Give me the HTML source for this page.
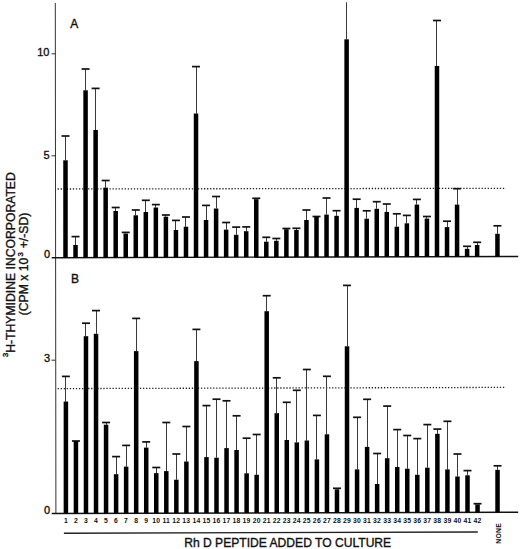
<!DOCTYPE html>
<html><head><meta charset="utf-8"><style>
html,body{margin:0;padding:0;background:#fff;width:520px;height:549px;overflow:hidden;}
svg{display:block;}
</style></head><body>
<svg width="520" height="549" viewBox="0 0 520 549">
<style>
.e{stroke:#3a3a3a;stroke-width:1;}
.c{stroke:#111;stroke-width:1.7;}
rect{fill:#000;}
text{font-family:"Liberation Sans",sans-serif;fill:#111;stroke:#111;stroke-width:0.35px;}
.n{font-size:6.8px;font-weight:bold;text-anchor:middle;stroke:none;letter-spacing:0.25px;}
.t{font-size:11px;text-anchor:end;}
.d{stroke:#222;stroke-width:1.3;stroke-dasharray:1.3 1.75;}
</style>
<!-- axis -->
<line x1="55.3" y1="3" x2="55.9" y2="513.5" stroke="#333" stroke-width="1"/>
<!-- baselines -->
<line x1="51.7" y1="257.7" x2="518.2" y2="256.5" stroke="#111" stroke-width="1.4"/>
<line x1="51.7" y1="513.5" x2="518.2" y2="512.2" stroke="#111" stroke-width="1.4"/>
<!-- ticks -->
<line x1="51.5" y1="53.8" x2="55.5" y2="53.8" stroke="#333" stroke-width="1"/>
<line x1="51.5" y1="155.8" x2="55.5" y2="155.8" stroke="#333" stroke-width="1"/>
<line x1="51.5" y1="360.2" x2="55.5" y2="360.2" stroke="#333" stroke-width="1"/>
<!-- dotted -->
<line x1="57.6" y1="189.0" x2="506" y2="188.3" class="d"/>
<line x1="57.6" y1="388.6" x2="506" y2="387.4" class="d"/>
<!-- tick labels -->
<text x="49.5" y="55.6" class="t">10</text>
<text x="49.5" y="158.7" class="t">5</text>
<text x="50" y="258.2" class="t">0</text>
<text x="50" y="361.6" class="t">3</text>
<text x="50" y="514" class="t">0</text>
<!-- panel letters -->
<text x="70.3" y="28" font-size="12px">A</text>
<text x="71" y="282.7" font-size="12px">B</text>
<line x1="65.50" y1="136.00" x2="65.50" y2="160.30" class="e"/>
<line x1="61.50" y1="136.00" x2="69.50" y2="136.00" class="c"/>
<rect x="63.25" y="160.30" width="4.5" height="97.36"/>
<line x1="75.50" y1="236.60" x2="75.50" y2="245.00" class="e"/>
<line x1="71.54" y1="236.60" x2="79.54" y2="236.60" class="c"/>
<rect x="73.29" y="245.00" width="4.5" height="12.64"/>
<line x1="85.50" y1="69.00" x2="85.50" y2="90.30" class="e"/>
<line x1="81.58" y1="69.00" x2="89.58" y2="69.00" class="c"/>
<rect x="83.33" y="90.30" width="4.5" height="167.31"/>
<line x1="95.50" y1="88.40" x2="95.50" y2="130.00" class="e"/>
<line x1="91.62" y1="88.40" x2="99.62" y2="88.40" class="c"/>
<rect x="93.37" y="130.00" width="4.5" height="127.59"/>
<line x1="105.50" y1="180.50" x2="105.50" y2="187.60" class="e"/>
<line x1="101.66" y1="180.50" x2="109.66" y2="180.50" class="c"/>
<rect x="103.41" y="187.60" width="4.5" height="69.96"/>
<line x1="115.50" y1="207.50" x2="115.50" y2="211.00" class="e"/>
<line x1="111.70" y1="207.50" x2="119.70" y2="207.50" class="c"/>
<rect x="113.45" y="211.00" width="4.5" height="46.53"/>
<line x1="125.50" y1="232.40" x2="125.50" y2="233.60" class="e"/>
<line x1="121.74" y1="232.40" x2="129.74" y2="232.40" class="c"/>
<rect x="123.49" y="233.60" width="4.5" height="23.91"/>
<line x1="135.50" y1="210.00" x2="135.50" y2="215.30" class="e"/>
<line x1="131.78" y1="210.00" x2="139.78" y2="210.00" class="c"/>
<rect x="133.53" y="215.30" width="4.5" height="42.18"/>
<line x1="145.50" y1="200.30" x2="145.50" y2="212.00" class="e"/>
<line x1="141.82" y1="200.30" x2="149.82" y2="200.30" class="c"/>
<rect x="143.57" y="212.00" width="4.5" height="45.46"/>
<line x1="155.50" y1="204.60" x2="155.50" y2="207.50" class="e"/>
<line x1="151.86" y1="204.60" x2="159.86" y2="204.60" class="c"/>
<rect x="153.61" y="207.50" width="4.5" height="49.93"/>
<line x1="165.50" y1="215.00" x2="165.50" y2="216.70" class="e"/>
<line x1="161.90" y1="215.00" x2="169.90" y2="215.00" class="c"/>
<rect x="163.65" y="216.70" width="4.5" height="40.70"/>
<line x1="175.50" y1="220.40" x2="175.50" y2="230.00" class="e"/>
<line x1="171.94" y1="220.40" x2="179.94" y2="220.40" class="c"/>
<rect x="173.69" y="230.00" width="4.5" height="27.38"/>
<line x1="185.50" y1="217.00" x2="185.50" y2="226.70" class="e"/>
<line x1="181.98" y1="217.00" x2="189.98" y2="217.00" class="c"/>
<rect x="183.73" y="226.70" width="4.5" height="30.65"/>
<line x1="196.50" y1="66.60" x2="196.50" y2="113.50" class="e"/>
<line x1="192.02" y1="66.60" x2="200.02" y2="66.60" class="c"/>
<rect x="193.77" y="113.50" width="4.5" height="143.83"/>
<line x1="206.50" y1="205.40" x2="206.50" y2="220.00" class="e"/>
<line x1="202.06" y1="205.40" x2="210.06" y2="205.40" class="c"/>
<rect x="203.81" y="220.00" width="4.5" height="37.30"/>
<line x1="216.50" y1="196.50" x2="216.50" y2="208.50" class="e"/>
<line x1="212.10" y1="196.50" x2="220.10" y2="196.50" class="c"/>
<rect x="213.85" y="208.50" width="4.5" height="48.77"/>
<line x1="226.50" y1="222.50" x2="226.50" y2="229.60" class="e"/>
<line x1="222.14" y1="222.50" x2="230.14" y2="222.50" class="c"/>
<rect x="223.89" y="229.60" width="4.5" height="27.65"/>
<line x1="236.50" y1="227.10" x2="236.50" y2="234.80" class="e"/>
<line x1="232.18" y1="227.10" x2="240.18" y2="227.10" class="c"/>
<rect x="233.93" y="234.80" width="4.5" height="22.42"/>
<line x1="246.50" y1="226.90" x2="246.50" y2="231.20" class="e"/>
<line x1="242.22" y1="226.90" x2="250.22" y2="226.90" class="c"/>
<rect x="243.97" y="231.20" width="4.5" height="26.00"/>
<line x1="252.26" y1="198.30" x2="260.26" y2="198.30" class="c"/>
<rect x="254.01" y="199.20" width="4.5" height="57.97"/>
<line x1="266.50" y1="237.30" x2="266.50" y2="241.70" class="e"/>
<line x1="262.30" y1="237.30" x2="270.30" y2="237.30" class="c"/>
<rect x="264.05" y="241.70" width="4.5" height="15.44"/>
<line x1="276.50" y1="238.50" x2="276.50" y2="240.80" class="e"/>
<line x1="272.34" y1="238.50" x2="280.34" y2="238.50" class="c"/>
<rect x="274.09" y="240.80" width="4.5" height="16.32"/>
<line x1="282.38" y1="228.50" x2="290.38" y2="228.50" class="c"/>
<rect x="284.13" y="229.20" width="4.5" height="27.89"/>
<line x1="296.50" y1="228.30" x2="296.50" y2="230.00" class="e"/>
<line x1="292.42" y1="228.30" x2="300.42" y2="228.30" class="c"/>
<rect x="294.17" y="230.00" width="4.5" height="27.06"/>
<line x1="306.50" y1="210.00" x2="306.50" y2="220.00" class="e"/>
<line x1="302.46" y1="210.00" x2="310.46" y2="210.00" class="c"/>
<rect x="304.21" y="220.00" width="4.5" height="37.04"/>
<line x1="312.50" y1="216.50" x2="320.50" y2="216.50" class="c"/>
<rect x="314.25" y="216.70" width="4.5" height="40.31"/>
<line x1="326.50" y1="198.00" x2="326.50" y2="214.60" class="e"/>
<line x1="322.54" y1="198.00" x2="330.54" y2="198.00" class="c"/>
<rect x="324.29" y="214.60" width="4.5" height="42.39"/>
<line x1="336.50" y1="210.70" x2="336.50" y2="215.80" class="e"/>
<line x1="332.58" y1="210.70" x2="340.58" y2="210.70" class="c"/>
<rect x="334.33" y="215.80" width="4.5" height="41.16"/>
<line x1="346.50" y1="2.3" x2="346.50" y2="39.30" class="e"/>
<rect x="344.37" y="39.30" width="4.5" height="217.63"/>
<line x1="356.50" y1="199.20" x2="356.50" y2="207.90" class="e"/>
<line x1="352.66" y1="199.20" x2="360.66" y2="199.20" class="c"/>
<rect x="354.41" y="207.90" width="4.5" height="49.01"/>
<line x1="366.50" y1="210.80" x2="366.50" y2="218.70" class="e"/>
<line x1="362.70" y1="210.80" x2="370.70" y2="210.80" class="c"/>
<rect x="364.45" y="218.70" width="4.5" height="38.18"/>
<line x1="376.50" y1="201.70" x2="376.50" y2="208.80" class="e"/>
<line x1="372.74" y1="201.70" x2="380.74" y2="201.70" class="c"/>
<rect x="374.49" y="208.80" width="4.5" height="48.06"/>
<line x1="386.50" y1="204.00" x2="386.50" y2="211.90" class="e"/>
<line x1="382.78" y1="204.00" x2="390.78" y2="204.00" class="c"/>
<rect x="384.53" y="211.90" width="4.5" height="44.93"/>
<line x1="396.50" y1="213.80" x2="396.50" y2="226.70" class="e"/>
<line x1="392.82" y1="213.80" x2="400.82" y2="213.80" class="c"/>
<rect x="394.57" y="226.70" width="4.5" height="30.10"/>
<line x1="406.50" y1="215.40" x2="406.50" y2="223.30" class="e"/>
<line x1="402.86" y1="215.40" x2="410.86" y2="215.40" class="c"/>
<rect x="404.61" y="223.30" width="4.5" height="33.48"/>
<line x1="416.50" y1="199.40" x2="416.50" y2="204.60" class="e"/>
<line x1="412.90" y1="199.40" x2="420.90" y2="199.40" class="c"/>
<rect x="414.65" y="204.60" width="4.5" height="52.15"/>
<line x1="426.50" y1="216.50" x2="426.50" y2="218.60" class="e"/>
<line x1="422.94" y1="216.50" x2="430.94" y2="216.50" class="c"/>
<rect x="424.69" y="218.60" width="4.5" height="38.13"/>
<line x1="436.50" y1="20.50" x2="436.50" y2="66.00" class="e"/>
<line x1="432.98" y1="20.50" x2="440.98" y2="20.50" class="c"/>
<rect x="434.73" y="66.00" width="4.5" height="190.70"/>
<line x1="447.50" y1="221.20" x2="447.50" y2="227.10" class="e"/>
<line x1="443.02" y1="221.20" x2="451.02" y2="221.20" class="c"/>
<rect x="444.77" y="227.10" width="4.5" height="29.57"/>
<line x1="457.50" y1="188.70" x2="457.50" y2="204.60" class="e"/>
<line x1="453.06" y1="188.70" x2="461.06" y2="188.70" class="c"/>
<rect x="454.81" y="204.60" width="4.5" height="52.05"/>
<line x1="467.50" y1="246.30" x2="467.50" y2="248.80" class="e"/>
<line x1="463.10" y1="246.30" x2="471.10" y2="246.30" class="c"/>
<rect x="464.85" y="248.80" width="4.5" height="7.82"/>
<line x1="477.50" y1="242.30" x2="477.50" y2="245.00" class="e"/>
<line x1="473.14" y1="242.30" x2="481.14" y2="242.30" class="c"/>
<rect x="474.89" y="245.00" width="4.5" height="11.59"/>
<line x1="497.50" y1="225.80" x2="497.50" y2="233.80" class="e"/>
<line x1="493.45" y1="225.80" x2="501.45" y2="225.80" class="c"/>
<rect x="495.20" y="233.80" width="4.5" height="22.74"/>
<line x1="65.50" y1="376.40" x2="65.50" y2="401.50" class="e"/>
<line x1="61.90" y1="376.40" x2="69.90" y2="376.40" class="c"/>
<rect x="63.65" y="401.50" width="4.5" height="111.96"/>
<line x1="71.94" y1="441.00" x2="79.94" y2="441.00" class="c"/>
<rect x="73.69" y="441.00" width="4.5" height="72.44"/>
<line x1="85.50" y1="323.20" x2="85.50" y2="336.20" class="e"/>
<line x1="81.98" y1="323.20" x2="89.98" y2="323.20" class="c"/>
<rect x="83.73" y="336.20" width="4.5" height="177.21"/>
<line x1="96.50" y1="310.60" x2="96.50" y2="333.80" class="e"/>
<line x1="92.02" y1="310.60" x2="100.02" y2="310.60" class="c"/>
<rect x="93.77" y="333.80" width="4.5" height="179.59"/>
<line x1="106.50" y1="422.50" x2="106.50" y2="424.70" class="e"/>
<line x1="102.06" y1="422.50" x2="110.06" y2="422.50" class="c"/>
<rect x="103.81" y="424.70" width="4.5" height="88.66"/>
<line x1="116.50" y1="456.60" x2="116.50" y2="474.20" class="e"/>
<line x1="112.10" y1="456.60" x2="120.10" y2="456.60" class="c"/>
<rect x="113.85" y="474.20" width="4.5" height="39.13"/>
<line x1="126.50" y1="445.40" x2="126.50" y2="466.60" class="e"/>
<line x1="122.14" y1="445.40" x2="130.14" y2="445.40" class="c"/>
<rect x="123.89" y="466.60" width="4.5" height="46.71"/>
<line x1="136.50" y1="318.40" x2="136.50" y2="351.10" class="e"/>
<line x1="132.18" y1="318.40" x2="140.18" y2="318.40" class="c"/>
<rect x="133.93" y="351.10" width="4.5" height="162.18"/>
<line x1="146.50" y1="441.90" x2="146.50" y2="447.60" class="e"/>
<line x1="142.22" y1="441.90" x2="150.22" y2="441.90" class="c"/>
<rect x="143.97" y="447.60" width="4.5" height="65.66"/>
<line x1="156.50" y1="467.50" x2="156.50" y2="473.10" class="e"/>
<line x1="152.26" y1="467.50" x2="160.26" y2="467.50" class="c"/>
<rect x="154.01" y="473.10" width="4.5" height="40.13"/>
<line x1="166.50" y1="422.50" x2="166.50" y2="471.10" class="e"/>
<line x1="162.30" y1="422.50" x2="170.30" y2="422.50" class="c"/>
<rect x="164.05" y="471.10" width="4.5" height="42.10"/>
<line x1="176.50" y1="454.00" x2="176.50" y2="479.70" class="e"/>
<line x1="172.34" y1="454.00" x2="180.34" y2="454.00" class="c"/>
<rect x="174.09" y="479.70" width="4.5" height="33.48"/>
<line x1="186.50" y1="426.50" x2="186.50" y2="461.50" class="e"/>
<line x1="182.38" y1="426.50" x2="190.38" y2="426.50" class="c"/>
<rect x="184.13" y="461.50" width="4.5" height="51.65"/>
<line x1="196.50" y1="329.40" x2="196.50" y2="361.10" class="e"/>
<line x1="192.42" y1="329.40" x2="200.42" y2="329.40" class="c"/>
<rect x="194.17" y="361.10" width="4.5" height="152.02"/>
<line x1="206.50" y1="405.60" x2="206.50" y2="457.10" class="e"/>
<line x1="202.46" y1="405.60" x2="210.46" y2="405.60" class="c"/>
<rect x="204.21" y="457.10" width="4.5" height="56.00"/>
<line x1="216.50" y1="399.20" x2="216.50" y2="457.70" class="e"/>
<line x1="212.50" y1="399.20" x2="220.50" y2="399.20" class="c"/>
<rect x="214.25" y="457.70" width="4.5" height="55.37"/>
<line x1="226.50" y1="400.80" x2="226.50" y2="448.10" class="e"/>
<line x1="222.54" y1="400.80" x2="230.54" y2="400.80" class="c"/>
<rect x="224.29" y="448.10" width="4.5" height="64.95"/>
<line x1="236.50" y1="415.80" x2="236.50" y2="450.00" class="e"/>
<line x1="232.58" y1="415.80" x2="240.58" y2="415.80" class="c"/>
<rect x="234.33" y="450.00" width="4.5" height="63.02"/>
<line x1="246.50" y1="438.20" x2="246.50" y2="473.30" class="e"/>
<line x1="242.62" y1="438.20" x2="250.62" y2="438.20" class="c"/>
<rect x="244.37" y="473.30" width="4.5" height="39.69"/>
<line x1="256.50" y1="434.50" x2="256.50" y2="474.80" class="e"/>
<line x1="252.66" y1="434.50" x2="260.66" y2="434.50" class="c"/>
<rect x="254.41" y="474.80" width="4.5" height="38.17"/>
<line x1="266.50" y1="295.70" x2="266.50" y2="311.20" class="e"/>
<line x1="262.70" y1="295.70" x2="270.70" y2="295.70" class="c"/>
<rect x="264.45" y="311.20" width="4.5" height="201.74"/>
<line x1="276.50" y1="377.80" x2="276.50" y2="413.20" class="e"/>
<line x1="272.74" y1="377.80" x2="280.74" y2="377.80" class="c"/>
<rect x="274.49" y="413.20" width="4.5" height="99.72"/>
<line x1="286.50" y1="402.30" x2="286.50" y2="440.00" class="e"/>
<line x1="282.78" y1="402.30" x2="290.78" y2="402.30" class="c"/>
<rect x="284.53" y="440.00" width="4.5" height="72.89"/>
<line x1="296.50" y1="390.30" x2="296.50" y2="442.40" class="e"/>
<line x1="292.82" y1="390.30" x2="300.82" y2="390.30" class="c"/>
<rect x="294.57" y="442.40" width="4.5" height="70.46"/>
<line x1="306.50" y1="369.50" x2="306.50" y2="440.50" class="e"/>
<line x1="302.86" y1="369.50" x2="310.86" y2="369.50" class="c"/>
<rect x="304.61" y="440.50" width="4.5" height="72.34"/>
<line x1="316.50" y1="415.40" x2="316.50" y2="459.40" class="e"/>
<line x1="312.90" y1="415.40" x2="320.90" y2="415.40" class="c"/>
<rect x="314.65" y="459.40" width="4.5" height="53.41"/>
<line x1="326.50" y1="376.30" x2="326.50" y2="434.30" class="e"/>
<line x1="322.94" y1="376.30" x2="330.94" y2="376.30" class="c"/>
<rect x="324.69" y="434.30" width="4.5" height="78.49"/>
<line x1="332.98" y1="488.30" x2="340.98" y2="488.30" class="c"/>
<rect x="334.73" y="489.30" width="4.5" height="23.46"/>
<line x1="347.50" y1="285.40" x2="347.50" y2="346.30" class="e"/>
<line x1="343.02" y1="285.40" x2="351.02" y2="285.40" class="c"/>
<rect x="344.77" y="346.30" width="4.5" height="166.43"/>
<line x1="357.50" y1="417.30" x2="357.50" y2="469.40" class="e"/>
<line x1="353.06" y1="417.30" x2="361.06" y2="417.30" class="c"/>
<rect x="354.81" y="469.40" width="4.5" height="43.31"/>
<line x1="367.50" y1="399.30" x2="367.50" y2="446.90" class="e"/>
<line x1="363.10" y1="399.30" x2="371.10" y2="399.30" class="c"/>
<rect x="364.85" y="446.90" width="4.5" height="65.78"/>
<line x1="377.50" y1="453.50" x2="377.50" y2="484.00" class="e"/>
<line x1="373.14" y1="453.50" x2="381.14" y2="453.50" class="c"/>
<rect x="374.89" y="484.00" width="4.5" height="28.65"/>
<line x1="387.50" y1="406.10" x2="387.50" y2="458.20" class="e"/>
<line x1="383.18" y1="406.10" x2="391.18" y2="406.10" class="c"/>
<rect x="384.93" y="458.20" width="4.5" height="54.43"/>
<line x1="397.50" y1="429.60" x2="397.50" y2="467.00" class="e"/>
<line x1="393.22" y1="429.60" x2="401.22" y2="429.60" class="c"/>
<rect x="394.97" y="467.00" width="4.5" height="45.60"/>
<line x1="407.50" y1="435.50" x2="407.50" y2="468.70" class="e"/>
<line x1="403.26" y1="435.50" x2="411.26" y2="435.50" class="c"/>
<rect x="405.01" y="468.70" width="4.5" height="43.88"/>
<line x1="417.50" y1="438.60" x2="417.50" y2="474.80" class="e"/>
<line x1="413.30" y1="438.60" x2="421.30" y2="438.60" class="c"/>
<rect x="415.05" y="474.80" width="4.5" height="37.75"/>
<line x1="427.50" y1="424.60" x2="427.50" y2="467.70" class="e"/>
<line x1="423.34" y1="424.60" x2="431.34" y2="424.60" class="c"/>
<rect x="425.09" y="467.70" width="4.5" height="44.82"/>
<line x1="437.50" y1="429.10" x2="437.50" y2="433.80" class="e"/>
<line x1="433.38" y1="429.10" x2="441.38" y2="429.10" class="c"/>
<rect x="435.13" y="433.80" width="4.5" height="78.70"/>
<line x1="447.50" y1="421.30" x2="447.50" y2="469.40" class="e"/>
<line x1="443.42" y1="421.30" x2="451.42" y2="421.30" class="c"/>
<rect x="445.17" y="469.40" width="4.5" height="43.07"/>
<line x1="457.50" y1="454.00" x2="457.50" y2="476.50" class="e"/>
<line x1="453.46" y1="454.00" x2="461.46" y2="454.00" class="c"/>
<rect x="455.21" y="476.50" width="4.5" height="35.95"/>
<line x1="467.50" y1="470.60" x2="467.50" y2="475.30" class="e"/>
<line x1="463.50" y1="470.60" x2="471.50" y2="470.60" class="c"/>
<rect x="465.25" y="475.30" width="4.5" height="37.12"/>
<line x1="473.54" y1="503.70" x2="481.54" y2="503.70" class="c"/>
<rect x="475.29" y="504.40" width="4.5" height="7.99"/>
<line x1="497.50" y1="465.80" x2="497.50" y2="469.90" class="e"/>
<line x1="493.53" y1="465.80" x2="501.53" y2="465.80" class="c"/>
<rect x="495.28" y="469.90" width="4.5" height="42.44"/>
<text x="65.90" y="523" class="n">1</text>
<text x="75.94" y="523" class="n">2</text>
<text x="85.98" y="523" class="n">3</text>
<text x="96.02" y="523" class="n">4</text>
<text x="106.06" y="523" class="n">5</text>
<text x="116.10" y="523" class="n">6</text>
<text x="126.14" y="523" class="n">7</text>
<text x="136.18" y="523" class="n">8</text>
<text x="146.22" y="523" class="n">9</text>
<text x="156.26" y="523" class="n">10</text>
<text x="166.30" y="523" class="n">11</text>
<text x="176.34" y="523" class="n">12</text>
<text x="186.38" y="523" class="n">13</text>
<text x="196.42" y="523" class="n">14</text>
<text x="206.46" y="523" class="n">15</text>
<text x="216.50" y="523" class="n">16</text>
<text x="226.54" y="523" class="n">17</text>
<text x="236.58" y="523" class="n">18</text>
<text x="246.62" y="523" class="n">19</text>
<text x="256.66" y="523" class="n">20</text>
<text x="266.70" y="523" class="n">21</text>
<text x="276.74" y="523" class="n">22</text>
<text x="286.78" y="523" class="n">23</text>
<text x="296.82" y="523" class="n">24</text>
<text x="306.86" y="523" class="n">25</text>
<text x="316.90" y="523" class="n">26</text>
<text x="326.94" y="523" class="n">27</text>
<text x="336.98" y="523" class="n">28</text>
<text x="347.02" y="523" class="n">29</text>
<text x="357.06" y="523" class="n">30</text>
<text x="367.10" y="523" class="n">31</text>
<text x="377.14" y="523" class="n">32</text>
<text x="387.18" y="523" class="n">33</text>
<text x="397.22" y="523" class="n">34</text>
<text x="407.26" y="523" class="n">35</text>
<text x="417.30" y="523" class="n">36</text>
<text x="427.34" y="523" class="n">37</text>
<text x="437.38" y="523" class="n">38</text>
<text x="447.42" y="523" class="n">39</text>
<text x="457.46" y="523" class="n">40</text>
<text x="467.50" y="523" class="n">41</text>
<text x="477.54" y="523" class="n">42</text>
<text transform="translate(501.3,543.7) rotate(-90)" class="n" style="text-anchor:start">NONE</text>
<!-- underline -->
<line x1="63.9" y1="533.2" x2="477.8" y2="532.0" stroke="#222" stroke-width="1.4"/>
<text x="184.2" y="546.6" font-size="12.1px">Rh D PEPTIDE ADDED TO CULTURE</text>
<!-- y label -->
<text transform="translate(14.6,357) rotate(-90)" font-size="12.2px"><tspan font-size="7.6px" dy="-7">3</tspan><tspan dy="7">H-THYMIDINE INCORPORATED</tspan></text>
<text transform="translate(28,315.3) rotate(-90)" font-size="12.2px">(CPM x 10<tspan font-size="7.8px" dx="1.2" dy="-5.5">3</tspan><tspan dx="0.5" dy="5.5"> +/-SD)</tspan></text>
</svg>
</body></html>
